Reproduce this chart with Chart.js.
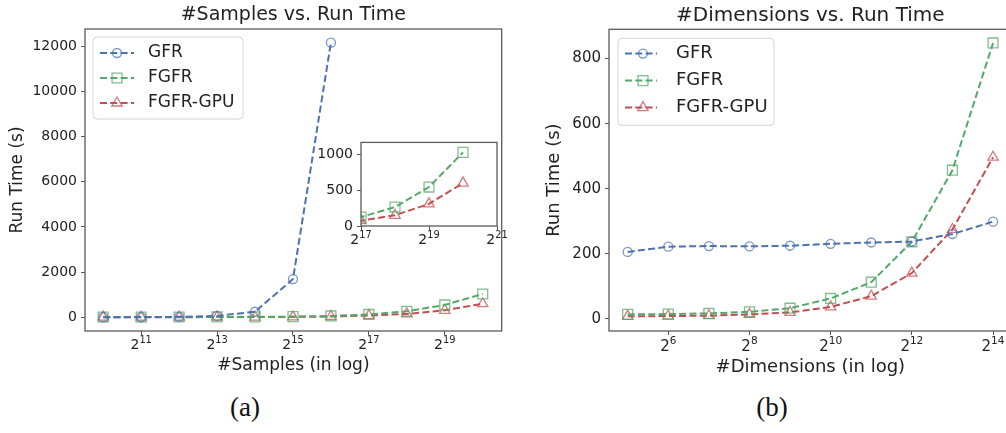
<!DOCTYPE html>
<html>
<head>
<meta charset="utf-8">
<script src="https://cdn.jsdelivr.net/npm/chart.js@4.4.1/dist/chart.umd.min.js"></script>
<style>
  html, body { margin: 0; padding: 0; background: #fff; }
  body { width: 1006px; height: 433px; position: relative; overflow: hidden; }
  canvas { position: absolute; }
  .cap { position: absolute; font-family: 'Liberation Serif', serif; font-size: 27px; color: #111; transform: translateX(-50%); }
</style>
</head>
<body>
<canvas id="samplesChart" width="510" height="380" style="left:0;top:0"></canvas>
<canvas id="insetChart" width="198" height="116" style="left:311px;top:130px"></canvas>
<canvas id="dimsChart" width="500" height="380" style="left:520px;top:0"></canvas>
<div class="cap" style="left:245px;top:392px">(a)</div>
<div class="cap" style="left:772px;top:392px">(b)</div>
<script>
// x values are powers of two (exponents)
const sampleExps = [10, 11, 12, 13, 14, 15, 16, 17, 18, 19, 20];
const gfrBySamples = [5, 8, 20, 60, 245, 1690, 12150];
const fgfrBySamples = [10, 10, 12, 15, 20, 30, 60, 125, 265, 545, 1030];
const gpuBySamples = [5, 5, 6, 8, 10, 15, 35, 75, 150, 310, 600];

const dimExps = [5, 6, 7, 8, 9, 10, 11, 12, 13, 14];
const gfrByDims = [206, 222, 224, 223, 225, 231, 235, 238, 261, 299];
const fgfrByDims = [14, 15, 17, 22, 33, 63, 113, 237, 457, 848];
const gpuByDims = [8, 9, 10, 14, 20, 37, 70, 141, 275, 497];

const sampleTicksX = [11, 13, 15, 17, 19];
const sampleTicksY = [0, 2000, 4000, 6000, 8000, 10000, 12000];
const insetTicksX = [17, 19, 21];
const insetTicksY = [0, 500, 1000];
const dimTicksX = [6, 8, 10, 12, 14];
const dimTicksY = [0, 200, 400, 600, 800];

const BLUE = '#4C72B0', GREEN = '#55A868', RED = '#C44E52';
const series = [
  { name: 'GFR', color: BLUE, marker: 'circle', r: 4.5 },
  { name: 'FGFR', color: GREEN, marker: 'rect', r: 7 },
  { name: 'FGFR-GPU', color: RED, marker: 'triangle', r: 6 }
];

Chart.defaults.font.family = "'DejaVu Sans', sans-serif";
Chart.defaults.color = '#222';

function alpha(hex, a) {
  const n = parseInt(hex.slice(1), 16);
  return `rgba(${n >> 16},${(n >> 8) & 255},${n & 255},${a})`;
}

function toPoints(xs, ys) {
  return ys.map((y, i) => ({ x: xs[i], y: y }));
}

function dataset(s, xs, ys) {
  return {
    label: s.name,
    data: toPoints(xs, ys),
    borderColor: s.color,
    borderWidth: 2,
    borderDash: [7, 3.3],
    pointStyle: s.marker,
    pointRadius: s.r,
    pointHoverRadius: s.r,
    pointBorderColor: alpha(s.color, 0.75),
    pointBackgroundColor: 'rgba(0,0,0,0)',
    pointBorderWidth: 1.3,
    tension: 0
  };
}

function drawMarker(ctx, kind, x, y, r) {
  ctx.beginPath();
  if (kind === 'circle') {
    ctx.arc(x, y, r, 0, Math.PI * 2);
  } else if (kind === 'rect') {
    const h = r * Math.SQRT1_2;
    ctx.rect(x - h, y - h, 2 * h, 2 * h);
  } else {
    ctx.moveTo(x, y - r);
    ctx.lineTo(x + r * 0.866, y + r * 0.5);
    ctx.lineTo(x - r * 0.866, y + r * 0.5);
    ctx.closePath();
  }
  ctx.stroke();
}

// axes frame (all four spines), 2^n tick labels and a matplotlib style legend
const frameLegend = {
  id: 'frameLegend',
  beforeDraw(chart, args, opts) {
    if (!opts.fill) return;
    const { ctx, chartArea: a } = chart;
    ctx.save();
    ctx.fillStyle = '#fff';
    ctx.fillRect(a.left, a.top, a.right - a.left, a.bottom - a.top);
    ctx.restore();
  },
  afterDraw(chart, args, opts) {
    const { ctx, chartArea: a } = chart;
    ctx.save();
    ctx.strokeStyle = '#5a5a5a';
    ctx.lineWidth = 1.3;
    ctx.strokeRect(a.left, a.top, a.right - a.left, a.bottom - a.top);

    // x tick labels as 2 with a raised exponent
    const T = opts.xLabels;
    if (T) {
      const sc = chart.scales.x;
      const big = T.font, small = T.font * 0.7;
      const baseY = a.bottom + 18.3 * T.font / 14;
      ctx.fillStyle = '#222';
      ctx.textBaseline = 'alphabetic';
      ctx.textAlign = 'left';
      T.ticks.forEach(v => {
        const exp = String(v);
        ctx.font = `${big}px 'DejaVu Sans'`;
        const wb = ctx.measureText('2').width;
        ctx.font = `${small}px 'DejaVu Sans'`;
        const we = ctx.measureText(exp).width;
        const x0 = sc.getPixelForValue(v) - (wb + we) / 2;
        ctx.font = `${big}px 'DejaVu Sans'`;
        ctx.fillText('2', x0, baseY);
        ctx.font = `${small}px 'DejaVu Sans'`;
        ctx.fillText(exp, x0 + wb, baseY - big * 0.45);
      });
    }

    const L = opts.legend;
    if (L) {
      const bx = a.left + L.dx, by = a.top + L.dy;
      ctx.beginPath();
      ctx.roundRect(bx, by, L.w, L.h, 4);
      ctx.fillStyle = 'rgba(255,255,255,0.85)';
      ctx.fill();
      ctx.strokeStyle = '#d4d4d4';
      ctx.lineWidth = 1;
      ctx.stroke();
      ctx.font = `${L.font}px 'DejaVu Sans'`;
      ctx.textBaseline = 'middle';
      ctx.textAlign = 'left';
      series.forEach((s, i) => {
        const y = by + L.row0 + i * L.gap;
        ctx.strokeStyle = s.color;
        ctx.lineWidth = 2;
        ctx.setLineDash([7, 3.3]);
        ctx.beginPath();
        ctx.moveTo(bx + L.x0, y);
        ctx.lineTo(bx + L.x1, y);
        ctx.stroke();
        ctx.setLineDash([]);
        ctx.strokeStyle = alpha(s.color, 0.75);
        ctx.lineWidth = 1.3;
        drawMarker(ctx, s.marker, bx + L.xm, y, s.r);
        ctx.fillStyle = '#222';
        ctx.fillText(s.name, bx + L.xt, y);
      });
    }
    ctx.restore();
  }
};

function axisX(c) {
  return {
    type: 'linear', min: c.min, max: c.max,
    afterBuildTicks: sc => { sc.ticks = c.ticks.map(v => ({ value: v })); },
    afterFit: sc => { sc.height = c.height; },
    ticks: { display: false },
    grid: { drawOnChartArea: false, drawTicks: true, tickLength: 4, color: '#555' },
    border: { display: false },
    title: c.title ? { display: true, text: c.title, font: { size: c.titleSize }, padding: { top: 0, bottom: c.titlePad }, color: '#222' } : { display: false }
  };
}

function axisY(c) {
  return {
    type: 'linear', min: c.min, max: c.max,
    afterBuildTicks: sc => { sc.ticks = c.ticks.map(v => ({ value: v })); },
    afterFit: sc => { sc.width = c.width; },
    ticks: { font: { size: c.font }, padding: 4, callback: v => String(v) },
    grid: { drawOnChartArea: false, drawTicks: true, tickLength: 4, color: '#555' },
    border: { display: false },
    title: c.title ? { display: true, text: c.title, font: { size: c.titleSize }, padding: { top: c.titlePad, bottom: 0 }, color: '#222' } : { display: false }
  };
}

const baseOpts = {
  responsive: false,
  animation: false,
  events: []
};

// (a) samples
new Chart(document.getElementById('samplesChart'), {
  type: 'line',
  data: {
    datasets: [
      dataset(series[0], sampleExps, gfrBySamples),
      dataset(series[1], sampleExps, fgfrBySamples),
      dataset(series[2], sampleExps, gpuBySamples)
    ]
  },
  options: {
    ...baseOpts,
    layout: { padding: { left: 0, right: 8, top: 0, bottom: 0 } },
    scales: {
      x: axisX({ min: 9.52, max: 20.5, ticks: sampleTicksX, height: 49, title: '#Samples (in log)', titleSize: 17, titlePad: 4.3 }),
      y: axisY({ min: -607, max: 12757, ticks: sampleTicksY, width: 85, font: 14, title: 'Run Time (s)', titleSize: 17, titlePad: 7.3 })
    },
    plugins: {
      legend: { display: false },
      tooltip: { enabled: false },
      title: { display: true, fullSize: false, text: '#Samples vs. Run Time', font: { size: 19, weight: 'normal' }, color: '#222', padding: { top: 3.6, bottom: 2.6 } },
      frameLegend: {
        xLabels: { ticks: sampleTicksX, font: 14 },
        legend: { dx: 8, dy: 8, w: 150, h: 82, row0: 16, gap: 25, x0: 7, x1: 41, xm: 24, xt: 55, font: 17 }
      }
    }
  },
  plugins: [frameLegend]
});

// inset of (a)
new Chart(document.getElementById('insetChart'), {
  type: 'line',
  data: {
    datasets: [
      dataset(series[1], sampleExps, fgfrBySamples),
      dataset(series[2], sampleExps, gpuBySamples)
    ]
  },
  options: {
    ...baseOpts,
    layout: { padding: { left: 0, right: 12, top: 5, bottom: 0 } },
    scales: {
      x: axisX({ min: 17, max: 21, ticks: insetTicksX, height: 20 }),
      y: axisY({ min: 0, max: 1170, ticks: insetTicksY, width: 50, font: 14 })
    },
    plugins: {
      legend: { display: false },
      tooltip: { enabled: false },
      frameLegend: { fill: true, xLabels: { ticks: insetTicksX, font: 14 } }
    }
  },
  plugins: [frameLegend]
});

// (b) dimensions
new Chart(document.getElementById('dimsChart'), {
  type: 'line',
  data: {
    datasets: [
      dataset(series[0], dimExps, gfrByDims),
      dataset(series[1], dimExps, fgfrByDims),
      dataset(series[2], dimExps, gpuByDims)
    ]
  },
  options: {
    ...baseOpts,
    layout: { padding: { left: 0, right: 8, top: 0, bottom: 0 } },
    scales: {
      x: axisX({ min: 4.54, max: 14.46, ticks: dimTicksX, height: 49, title: '#Dimensions (in log)', titleSize: 18, titlePad: 2.2 }),
      y: axisY({ min: -37, max: 890, ticks: dimTicksY, width: 89, font: 15, title: 'Run Time (s)', titleSize: 18, titlePad: 24 })
    },
    plugins: {
      legend: { display: false },
      tooltip: { enabled: false },
      title: { display: true, fullSize: false, text: '#Dimensions vs. Run Time', font: { size: 20, weight: 'normal' }, color: '#222', padding: { top: 3.5, bottom: 1.8 } },
      frameLegend: {
        xLabels: { ticks: dimTicksX, font: 15 },
        legend: { dx: 9, dy: 9, w: 156, h: 87, row0: 15.3, gap: 27, x0: 7, x1: 39, xm: 25, xt: 58, font: 18 }
      }
    }
  },
  plugins: [frameLegend]
});
</script>
</body>
</html>
